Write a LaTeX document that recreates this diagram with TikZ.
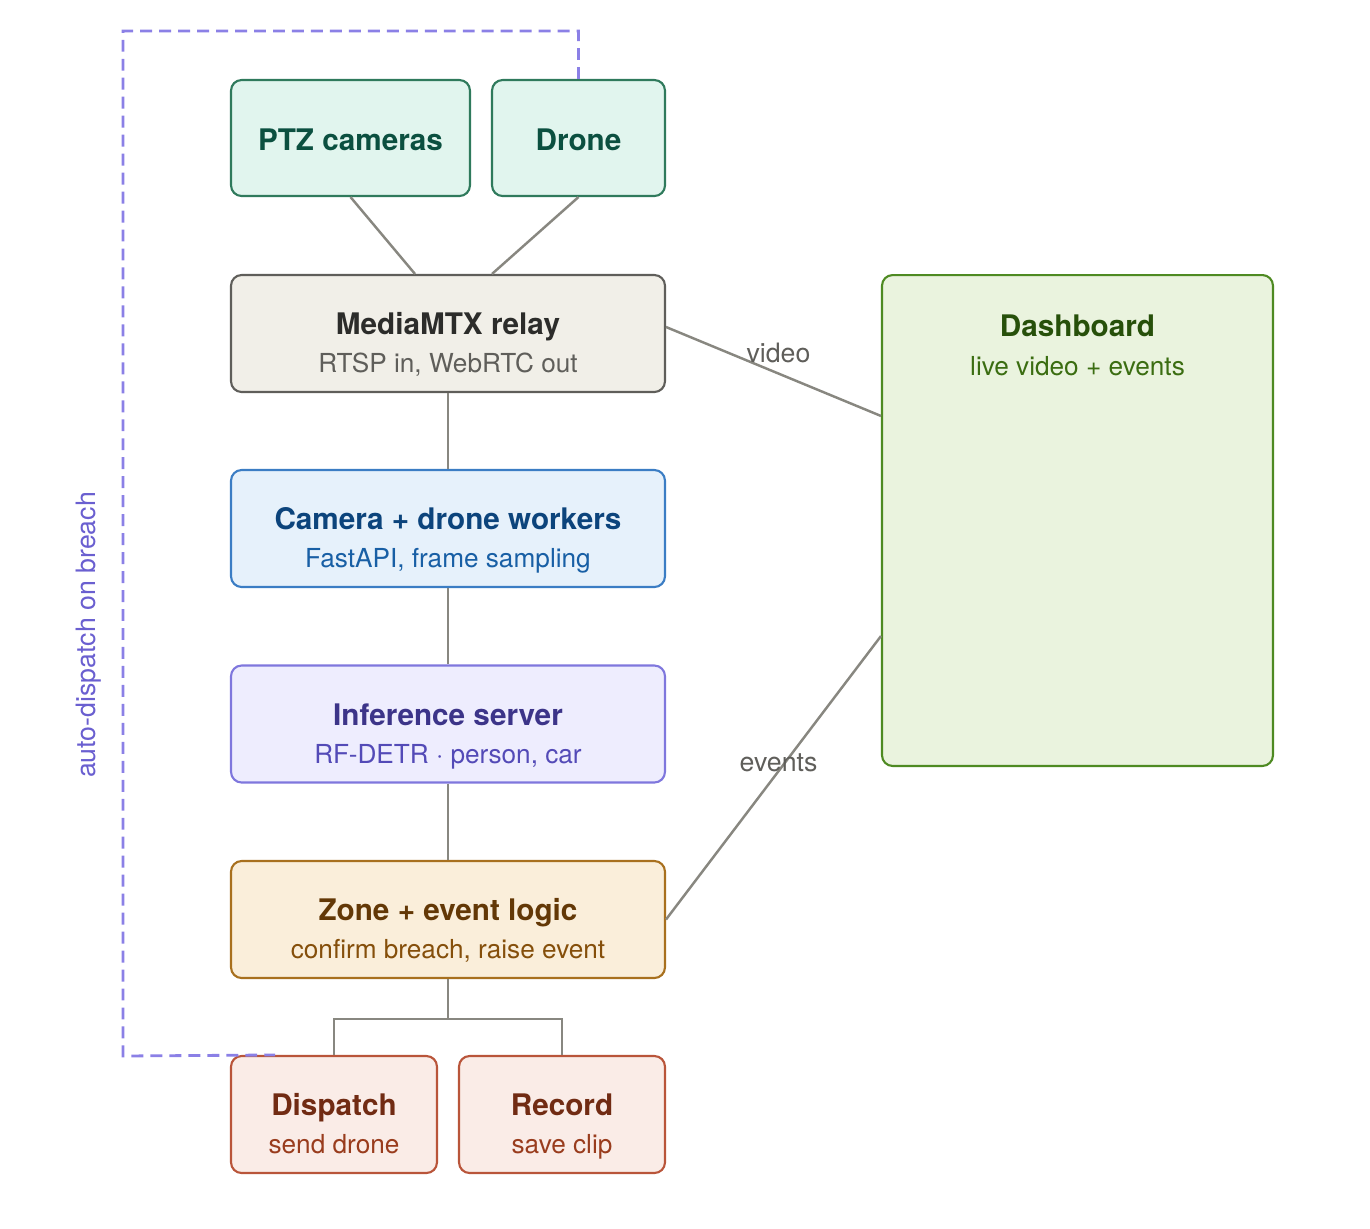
\documentclass[tikz,border=0pt]{standalone}
\usepackage{fontspec}
\setmainfont{TeX Gyre Heros}
\definecolor{srcfill}{HTML}{E1F5EE}
\definecolor{srcline}{HTML}{2F7A5C}
\definecolor{srctext}{HTML}{0B5040}
\definecolor{relayfill}{HTML}{F1EFE8}
\definecolor{relayline}{HTML}{5F5E5A}
\definecolor{relaytext}{HTML}{2C2C2A}
\definecolor{relaysub}{HTML}{5F5E5A}
\definecolor{wrkfill}{HTML}{E6F1FB}
\definecolor{wrkline}{HTML}{3B7DC4}
\definecolor{wrktext}{HTML}{0C447C}
\definecolor{wrksub}{HTML}{185FA5}
\definecolor{inffill}{HTML}{EEEDFE}
\definecolor{infline}{HTML}{7F77DD}
\definecolor{inftext}{HTML}{3C3489}
\definecolor{infsub}{HTML}{534AB7}
\definecolor{zonefill}{HTML}{FAEEDA}
\definecolor{zoneline}{HTML}{A8701E}
\definecolor{zonetext}{HTML}{633806}
\definecolor{zonesub}{HTML}{854F0B}
\definecolor{actfill}{HTML}{FAECE7}
\definecolor{actline}{HTML}{B9553A}
\definecolor{acttext}{HTML}{712B13}
\definecolor{actsub}{HTML}{993C1D}
\definecolor{dashfill}{HTML}{EAF3DE}
\definecolor{dashline}{HTML}{4E8A22}
\definecolor{dashtext}{HTML}{27500A}
\definecolor{dashsub}{HTML}{3B6D11}
\definecolor{wire}{HTML}{888780}
\definecolor{loopc}{HTML}{8B80E6}
\definecolor{looptext}{HTML}{6A5FD0}
\definecolor{edgetext}{HTML}{5F5E5A}
\tikzset{
  box/.style={draw, rounded corners=6pt, line width=1.2pt, inner sep=0pt},
  ttl/.style={font=\bfseries\fontsize{16.9}{20}\selectfont, anchor=base, inner sep=0pt},
  sub/.style={font=\fontsize{14.9}{18}\selectfont, anchor=base, inner sep=0pt},
  link/.style={draw=wire, line width=1.4pt},
  elabel/.style={font=\fontsize{15.2}{18}\selectfont, text=edgetext, inner sep=0pt},
  autoloop/.style={draw=loopc, line width=1.6pt, dash pattern=on 6.8pt off 4pt}
}
\begin{document}
\begin{tikzpicture}[x=0.02cm, y=-0.02cm]
  \useasboundingbox (0,0) rectangle (1370,1228);
  % sources
  \node[box, fill=srcfill, draw=srcline, minimum width=4.78cm, minimum height=2.32cm] (ptz) at (350.5,138) {};
  \node[box, fill=srcfill, draw=srcline, minimum width=3.46cm, minimum height=2.32cm] (drone) at (578.5,138) {};
  \node[ttl, text=srctext] (ptz-t) at (350.5,150) {PTZ cameras};
  \node[ttl, text=srctext] (drone-t) at (578.5,150) {Drone};
  % pipeline
  \node[box, fill=relayfill, draw=relayline, minimum width=8.68cm, minimum height=2.34cm] (relay) at (448,333.5) {};
  \node[box, fill=wrkfill, draw=wrkline, minimum width=8.68cm, minimum height=2.34cm] (workers) at (448,528.5) {};
  \node[box, fill=inffill, draw=infline, minimum width=8.68cm, minimum height=2.34cm] (infer) at (448,724) {};
  \node[box, fill=zonefill, draw=zoneline, minimum width=8.68cm, minimum height=2.34cm] (zone) at (448,919.5) {};
  \node[ttl, text=relaytext] (relay-t) at (448,334) {MediaMTX relay};
  \node[sub, text=relaysub] (relay-s) at (448,372) {RTSP in, WebRTC out};
  \node[ttl, text=wrktext] (workers-t) at (448,529) {Camera + drone workers};
  \node[sub, text=wrksub] (workers-s) at (448,567) {FastAPI, frame sampling};
  \node[ttl, text=inftext] (infer-t) at (448,725) {Inference server};
  \node[sub, text=infsub] (infer-s) at (448,763) {RF-DETR · person, car};
  \node[ttl, text=zonetext] (zone-t) at (448,920) {Zone + event logic};
  \node[sub, text=zonesub] (zone-s) at (448,958) {confirm breach, raise event};
  % actions
  \node[box, fill=actfill, draw=actline, minimum width=4.12cm, minimum height=2.34cm] (dispatch) at (334,1114.5) {};
  \node[box, fill=actfill, draw=actline, minimum width=4.12cm, minimum height=2.34cm] (record) at (562,1114.5) {};
  \node[ttl, text=acttext] (dispatch-t) at (334,1115) {Dispatch};
  \node[sub, text=actsub] (dispatch-s) at (334,1153) {send drone};
  \node[ttl, text=acttext] (record-t) at (562,1115) {Record};
  \node[sub, text=actsub] (record-s) at (562,1153) {save clip};
  % dashboard
  \node[box, fill=dashfill, draw=dashline, minimum width=7.82cm, minimum height=9.82cm] (dash) at (1077.5,520.5) {};
  \node[ttl, text=dashtext] (dash-t) at (1077.5,336) {Dashboard};
  \node[sub, text=dashsub] (dash-s) at (1077.5,375) {live video + events};
  % connectors
  \draw[link] (ptz.south) -- ([xshift=-0.66cm]relay.north);
  \draw[link] (drone.south) -- ([xshift=0.88cm]relay.north);
  \draw[link] (relay) -- (workers);
  \draw[link] (workers) -- (infer);
  \draw[link] (infer) -- (zone);
  \coordinate (split) at ([yshift=-0.8cm]zone.south);
  \draw[link] (zone.south) -- (split);
  \draw[link] (dispatch.north) |- (split) -| (record.north);
  \draw[link] ([yshift=0.13cm]relay.east) -- ([yshift=-2.84cm]dash.north west)
    node[elabel, midway, xshift=0.1cm, yshift=0.38cm] (video-l) {video};
  \draw[link] (zone.east) -- ([yshift=2.62cm]dash.south west)
    node[elabel, midway, xshift=0.1cm, yshift=0.3cm] (events-l) {events};
  % auto-dispatch loop
  \coordinate (loopend) at ([xshift=-1.18cm]dispatch.north);
  \draw[autoloop] (drone.north) -- ++(0,-48) -| (123,1056) -- (loopend);
  \node[font=\fontsize{15.2}{18}\selectfont, text=looptext, rotate=90, inner sep=0pt] (loop-l) at (89,635) {auto-dispatch on breach};
\end{tikzpicture}
\end{document}
